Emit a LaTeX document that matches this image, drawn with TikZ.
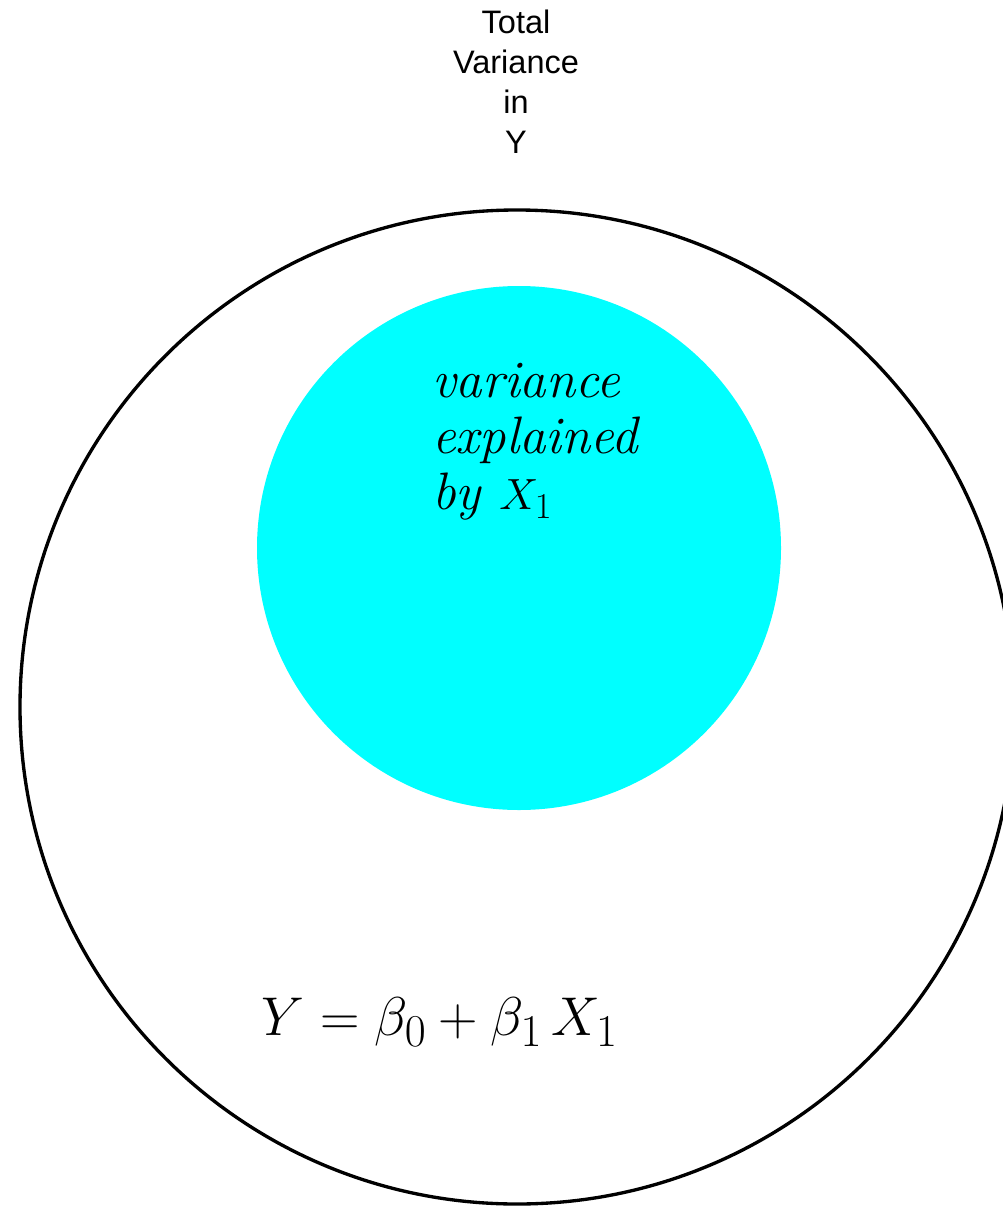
\documentclass[tikz,border=0pt]{standalone}
\usepackage{fontspec}
\setsansfont{Liberation Sans}
\definecolor{aqua}{RGB}{0,255,255}
\begin{document}
\begin{tikzpicture}[x=0.02cm,y=-0.02cm]
			\useasboundingbox (0,0) rectangle (1003,1206);
			\clip (0,0) rectangle (1003,1206);
			
			\node (big) at (517,707) {};
			\node (small) at (519,548) {};
			
			\draw[line width=1.9pt] (big) circle (497);
			\fill[aqua] (small) circle (262);
			
			\node[align=center, font=\sffamily\fontsize{18.5}{22.8}\selectfont] (title) at (516,82) {Total\\Variance\\in\\Y};
			\node[align=left, font=\itshape\fontsize{30}{32}\selectfont] (expl) at (535,442) {variance\\explained\\by $X_1$};
			\node[font=\fontsize{30}{32}\selectfont] (eqn) at (440,1022) {\scalebox{1.25}{$Y=\beta_0+\beta_1\,X_1$}};
		\end{tikzpicture}
\end{document}
